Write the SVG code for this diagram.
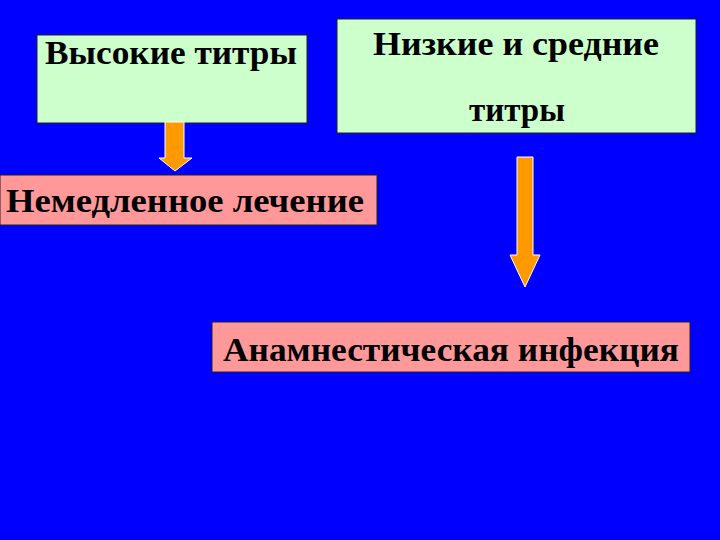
<svg xmlns="http://www.w3.org/2000/svg" width="720" height="540" viewBox="0 0 720 540">
<style>
.g{fill:#ccffcc;stroke:#222;stroke-width:1}
.p{fill:#ff9999;stroke:#222;stroke-width:1}
.t{font-family:"Liberation Serif",serif;font-weight:bold;font-size:33px;fill:#000;text-anchor:middle}
.a{fill:#ff9900;stroke:#fff;stroke-width:1}
</style>
<rect width="720" height="540" fill="#0000ff"/>
<g id="high"><rect class="g" x="37" y="35" width="270" height="88"/><text class="t" x="171" y="64" textLength="252" lengthAdjust="spacingAndGlyphs">Высокие титры</text></g>
<g id="low"><rect class="g" x="337" y="19" width="359" height="114"/><text class="t" x="516" y="55" textLength="286" lengthAdjust="spacingAndGlyphs">Низкие и средние</text><text class="t" x="517" y="121">титры</text></g>
<g id="treat"><rect class="p" x="0" y="175" width="377" height="50"/><text class="t" x="185" y="212" textLength="358" lengthAdjust="spacingAndGlyphs">Немедленное лечение</text></g>
<g id="anam"><rect class="p" x="212" y="322" width="478" height="50"/><text class="t" x="451" y="361" textLength="456" lengthAdjust="spacingAndGlyphs">Анамнестическая инфекция</text></g>
<g id="connectors">
<path class="a" d="M165,122 H184 V158 H192 L175,171 L159,158 H165 Z"/>
<path class="a" d="M517,157 H533 V255 H540 L525,287 L510,255 H517 Z"/>
</g>
</svg>
